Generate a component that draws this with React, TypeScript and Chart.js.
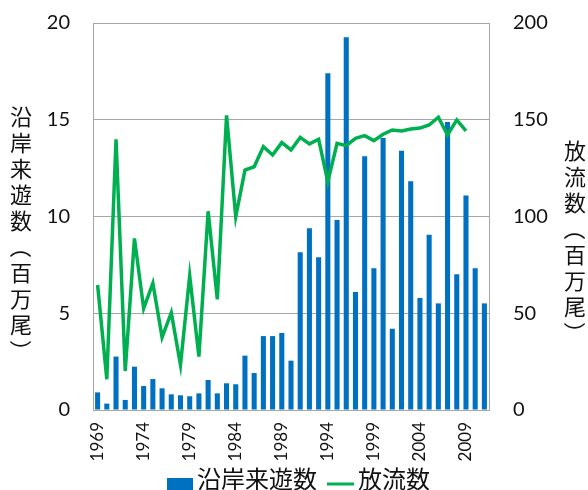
import React, { useEffect, useRef } from 'react';
import { Chart, registerables } from 'chart.js';

Chart.register(...registerables);

const years = [
  '1969', '1970', '1971', '1972', '1973', '1974', '1975', '1976', '1977', '1978',
  '1979', '1980', '1981', '1982', '1983', '1984', '1985', '1986', '1987', '1988',
  '1989', '1990', '1991', '1992', '1993', '1994', '1995', '1996', '1997', '1998',
  '1999', '2000', '2001', '2002', '2003', '2004', '2005', '2006', '2007', '2008',
  '2009', '2010', '2011',
];

// 沿岸来遊数 (百万尾)
const coastalReturns = [
  0.91, 0.33, 2.76, 0.52, 2.24, 1.24, 1.6, 1.12, 0.81, 0.76,
  0.71, 0.86, 1.55, 0.86, 1.38, 1.33, 2.81, 1.91, 3.82, 3.82,
  3.98, 2.55, 8.15, 9.39, 7.89, 17.4, 9.82, 19.26, 6.1, 13.11,
  7.32, 14.06, 4.2, 13.4, 11.82, 5.79, 9.06, 5.51, 14.88, 7.01,
  11.08, 7.32, 5.51,
];

// 放流数 (百万尾)
const releases = [
  64.6, 15.9, 139.9, 20.2, 88.7, 52.5, 65.5, 37.6, 50.3, 23.3,
  69.4, 27.6, 102.7, 57.2, 152.3, 99.9, 124.0, 125.7, 136.1, 131.8,
  138.2, 134.4, 140.9, 137.5, 139.9, 118.0, 137.8, 136.6, 140.4, 141.8,
  139.2, 142.5, 144.7, 144.2, 145.2, 145.7, 147.3, 151.3, 142.1, 149.9,
  144.3, null, null,
];

const leftTicks = [0, 5, 10, 15, 20];
const rightTicks = [0, 50, 100, 150, 200];
const labelEvery = 5;

const seriesNames = ['沿岸来遊数', '放流数'];
const leftTitle = '沿岸来遊数（百万尾）';
const rightTitle = '放流数（百万尾）';

const BLUE = '#0070C0';
const GREEN = '#00B050';
const GRID = '#a6a6a6';
const NUM_FONT = "Lato, 'Noto Sans CJK JP', sans-serif";
const CJK_FONT = "'Noto Sans CJK JP', sans-serif";

function drawVertical(ctx: CanvasRenderingContext2D, text: string, cx: number, firstCy: number, step: number) {
  const chars = Array.from(text);
  ctx.save();
  ctx.font = `22px ${CJK_FONT}`;
  ctx.fillStyle = '#111';
  ctx.textAlign = 'center';
  ctx.textBaseline = 'middle';
  chars.forEach((ch, i) => {
    const cy = firstCy + i * step;
    if (ch === '（' || ch === '）') {
      ctx.save();
      ctx.translate(cx, cy);
      ctx.rotate(Math.PI / 2);
      ctx.fillText(ch, 0, 0);
      ctx.restore();
    } else {
      ctx.fillText(ch, cx, cy);
    }
  });
  ctx.restore();
}

const decorPlugin = {
  id: 'decor',
  afterDraw(chart: any) {
    const ctx: CanvasRenderingContext2D = chart.ctx;
    drawVertical(ctx, leftTitle, 21, 117, 26);
    drawVertical(ctx, rightTitle, 575, 151, 26);

    // legend
    ctx.save();
    ctx.fillStyle = BLUE;
    ctx.fillRect(167, 478, 26, 12);
    ctx.strokeStyle = GREEN;
    ctx.lineWidth = 3;
    ctx.beginPath();
    ctx.moveTo(327, 484);
    ctx.lineTo(354, 484);
    ctx.stroke();
    ctx.font = `24px ${CJK_FONT}`;
    ctx.fillStyle = '#111';
    ctx.textAlign = 'left';
    ctx.textBaseline = 'middle';
    ctx.fillText(seriesNames[0], 197, 479);
    ctx.fillText(seriesNames[1], 358, 479);
    ctx.restore();
  },
};

export default function App() {
  const ref = useRef<HTMLCanvasElement>(null);

  useEffect(() => {
    if (!ref.current) return;
    const chart = new Chart(ref.current, {
      type: 'bar',
      data: {
        labels: years,
        datasets: [
          {
            type: 'line',
            label: seriesNames[1],
            data: releases,
            yAxisID: 'y2',
            borderColor: GREEN,
            backgroundColor: GREEN,
            borderWidth: 3.5,
            pointRadius: 0,
            tension: 0,
            spanGaps: false,
            order: 0,
          } as any,
          {
            type: 'bar',
            label: seriesNames[0],
            data: coastalReturns,
            yAxisID: 'y',
            backgroundColor: BLUE,
            borderWidth: 0,
            barPercentage: 0.55,
            categoryPercentage: 1,
            order: 1,
          },
        ],
      },
      options: {
        responsive: false,
        animation: false,
        layout: { padding: { top: 23, left: 0, right: 0, bottom: 0 } },
        plugins: {
          legend: { display: false },
          tooltip: { enabled: false },
          title: { display: false },
        },
        scales: {
          x: {
            offset: true,
            grid: { display: false, drawTicks: false },
            border: { display: true, color: GRID, width: 1 },
            ticks: {
              autoSkip: false,
              maxRotation: 90,
              minRotation: 90,
              padding: 12,
              color: '#111',
              font: { family: NUM_FONT, size: 17 },
              callback: (_v: any, i: number) => (i % labelEvery === 0 ? years[i] : ''),
            },
            afterFit: (s: any) => { s.height = 80; s.paddingLeft = 0; s.paddingRight = 0; },
          },
          y: {
            position: 'left',
            min: leftTicks[0],
            max: leftTicks[leftTicks.length - 1],
            afterBuildTicks: (s: any) => { s.ticks = leftTicks.map((v) => ({ value: v })); },
            grid: { color: GRID, lineWidth: 1, drawTicks: false },
            border: { display: true, color: GRID, width: 1 },
            ticks: {
              padding: 23,
              color: '#111',
              font: { family: NUM_FONT, size: 20 },
            },
            afterFit: (s: any) => { s.width = 93; s.paddingTop = 0; s.paddingBottom = 0; },
          },
          y2: {
            position: 'right',
            min: rightTicks[0],
            max: rightTicks[rightTicks.length - 1],
            afterBuildTicks: (s: any) => { s.ticks = rightTicks.map((v) => ({ value: v })); },
            grid: { display: false, drawTicks: false },
            border: { display: true, color: GRID, width: 1 },
            ticks: {
              padding: 24,
              color: '#111',
              font: { family: NUM_FONT, size: 20 },
            },
            afterFit: (s: any) => { s.width = 99; s.paddingTop = 0; s.paddingBottom = 0; },
          },
        },
      },
      plugins: [decorPlugin],
    });
    return () => chart.destroy();
  }, []);

  return (
    <div style={{ position: 'fixed', left: 0, top: 0, width: 588, height: 490, background: '#fff' }}>
      <canvas ref={ref} width={588} height={490} style={{ display: 'block' }} />
    </div>
  );
}
